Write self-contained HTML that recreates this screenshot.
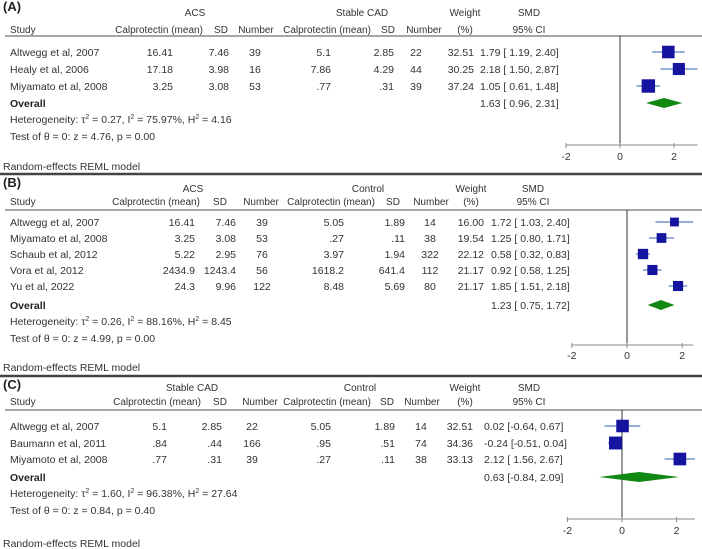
<!DOCTYPE html>
<html><head><meta charset="utf-8"><style>
html,body{margin:0;padding:0;background:#fff}
svg{display:block}
text{font-family:"Liberation Sans",Arial,sans-serif;font-size:10.5px;fill:#333}
.hd{font-size:10px}
</style></head><body>
<svg id="fig" width="702" height="549" viewBox="0 0 702 549" xmlns="http://www.w3.org/2000/svg"></svg>
<script>
// ---------- Panel A data ----------
const studiesA = ["Altwegg et al, 2007","Healy et al, 2006","Miyamato et al, 2008"];
const mean1A = ["16.41","17.18","3.25"];
const sd1A = ["7.46","3.98","3.08"];
const n1A = ["39","16","53"];
const mean2A = ["5.1","7.86",".77"];
const sd2A = ["2.85","4.29",".31"];
const n2A = ["22","44","39"];
const weightA = [32.51,30.25,37.24];
const smdA = [1.79,2.18,1.05];
const loA = [1.19,1.50,0.61];
const hiA = [2.40,2.87,1.48];
const overallA = [1.63,0.96,2.31];
const hetA = ["0.27","75.97%","4.16"];
const testA = ["4.76","0.00"];
// ---------- Panel B data ----------
const studiesB = ["Altwegg et al, 2007","Miyamato et al, 2008","Schaub et al, 2012","Vora et al, 2012","Yu et al, 2022"];
const mean1B = ["16.41","3.25","5.22","2434.9","24.3"];
const sd1B = ["7.46","3.08","2.95","1243.4","9.96"];
const n1B = ["39","53","76","56","122"];
const mean2B = ["5.05",".27","3.97","1618.2","8.48"];
const sd2B = ["1.89",".11","1.94","641.4","5.69"];
const n2B = ["14","38","322","112","80"];
const weightB = [16.00,19.54,22.12,21.17,21.17];
const smdB = [1.72,1.25,0.58,0.92,1.85];
const loB = [1.03,0.80,0.32,0.58,1.51];
const hiB = [2.40,1.71,0.83,1.25,2.18];
const overallB = [1.23,0.75,1.72];
const hetB = ["0.26","88.16%","8.45"];
const testB = ["4.99","0.00"];
// ---------- Panel C data ----------
const studiesC = ["Altwegg et al, 2007","Baumann et al, 2011","Miyamoto et al, 2008"];
const mean1C = ["5.1",".84",".77"];
const sd1C = ["2.85",".44",".31"];
const n1C = ["22","166","39"];
const mean2C = ["5.05",".95",".27"];
const sd2C = ["1.89",".51",".11"];
const n2C = ["14","74","38"];
const weightC = [32.51,34.36,33.13];
const smdC = [0.02,-0.24,2.12];
const loC = [-0.64,-0.51,1.56];
const hiC = [0.67,0.04,2.67];
const overallC = [0.63,-0.84,2.09];
const hetC = ["1.60","96.38%","27.64"];
const testC = ["0.84","0.40"];
const ticks = [-2,0,2];

const svg = document.getElementById('fig');
const NS = 'http://www.w3.org/2000/svg';
function mk(tag, attrs, parent, txt){
  const e = document.createElementNS(NS, tag);
  for (const k in attrs) e.setAttribute(k, attrs[k]);
  if (txt !== undefined) e.textContent = txt;
  (parent || svg).appendChild(e);
  return e;
}
function f2(v){ const s = Math.abs(v).toFixed(2); return (v<0?'-':' ')+s; }
function ci(m,l,h){ return m.toFixed(2)+' [' + f2(l) + ', ' + f2(h).trim() + ']'; }

function panel(P){
  const g = mk('g', {});
  
  
  const sx = v => P.x0 + v * P.unit;
  let t;
  t = mk('text', {x:3, y:P.yLabel+5, style:'font-size:13px;font-weight:bold;fill:#222'}, g, '('+P.key.toUpperCase()+')');
   
  const h1 = [[P.g1, P.c.h1], [P.g2, P.c.h2], ['Weight', P.c.w], ['SMD', P.c.smdh]];
  h1.forEach(h => { const e = mk('text', {x:h[1], y:P.yH1+4, 'text-anchor':'middle', class:'hd'}, g, h[0]);
      });
  const h2 = [['Study', 10, 'start'], ['Calprotectin (mean)', P.c.hm1, 'middle'], ['SD', P.c.hs1, 'middle'], ['Number', P.c.hn1, 'middle'],
    ['Calprotectin (mean)', P.c.hm2, 'middle'], ['SD', P.c.hs2, 'middle'], ['Number', P.c.hn2, 'middle'], ['(%)', P.c.w, 'middle'], ['95% CI', P.c.smdh, 'middle']];
  h2.forEach(h => { const e = mk('text', {x:h[1], y:P.yH2+4, 'text-anchor':h[2], class:'hd'}, g, h[0]);
      });
  const sep = mk('line', {x1:5, x2:702, y1:P.ySep, y2:P.ySep, stroke:'#888', 'stroke-width':1.5}, g);
   
  const zl = mk('line', {x1:sx(0), x2:sx(0), y1:P.ySep, y2:P.yAxis, stroke:'#333', 'stroke-width':1}, g);
   
  P.studies.forEach((s, i) => {
    const y = P.yRows[i];
    const cells = [[s, 10, 'start'], [P.m1[i], P.c.m1, 'end'], [P.s1[i], P.c.s1, 'end'], [P.n1[i], P.c.n1, 'middle'],
      [P.m2[i], P.c.m2, 'end'], [P.s2[i], P.c.s2, 'end'], [P.n2[i], P.c.n2, 'middle'], [P.w[i].toFixed(2), P.c.wr, 'end'],
      [ci(P.smd[i], P.lo[i], P.hi[i]), P.c.smd, 'start']];
    cells.forEach(c => { const e = mk('text', {x:c[1], y:y+4, 'text-anchor':c[2], 'xml:space':'preserve'}, g, c[0]);
        });
    const l = mk('line', {x1:sx(P.lo[i]), x2:sx(P.hi[i]), y1:y, y2:y, stroke:'#5b7fc4', 'stroke-width':1.2}, g);
     
    const sz = Math.sqrt(P.w[i]) * 2.2;
    const r = mk('rect', {x:sx(P.smd[i]) - sz/2, y:y - sz/2, width:sz, height:sz, fill:'#1414a0'}, g);
     
  });
  const yo = P.yOverall;
  t = mk('text', {x:10, y:yo+4, style:'font-weight:bold;fill:#222'}, g, 'Overall');
   
  t = mk('text', {x:P.c.smd, y:yo+4, 'xml:space':'preserve'}, g, ci(P.ov[0], P.ov[1], P.ov[2]));
   
  const d = mk('polygon', {points:[sx(P.ov[1])+','+yo, sx(P.ov[0])+','+(yo-5), sx(P.ov[2])+','+yo, sx(P.ov[0])+','+(yo+5)].join(' '), fill:'#118811'}, g);
   
  t = mk('text', {x:10, y:P.yHet+4}, g);
   
  t.innerHTML = 'Heterogeneity: τ<tspan dy="-4" style="font-size:7px">2</tspan><tspan dy="4"> = ' + P.het[0] + ', I</tspan><tspan dy="-4" style="font-size:7px">2</tspan><tspan dy="4"> = ' + P.het[1] + ', H</tspan><tspan dy="-4" style="font-size:7px">2</tspan><tspan dy="4"> = ' + P.het[2] + '</tspan>';
  t = mk('text', {x:10, y:P.yTest+4}, g, 'Test of θ = 0: z = ' + P.test[0] + ', p = ' + P.test[1]);
   
  const ax = mk('line', {x1:sx(ticks[0]), x2:sx(P.axMax), y1:P.yAxis, y2:P.yAxis, stroke:'#888', 'stroke-width':1}, g);
   
  ticks.forEach(v => {
    const tk = mk('line', {x1:sx(v), x2:sx(v), y1:P.yAxis-2, y2:P.yAxis+3, stroke:'#888'}, g);
     
    const tl = mk('text', {x:sx(v), y:P.yTick+4, 'text-anchor':'middle'}, g, String(v));
     
  });
  t = mk('text', {x:3, y:P.yModel+4, style:'font-size:10.5px'}, g, 'Random-effects REML model');
   
  if (P.yBottom) {
    const b = mk('line', {x1:0, x2:702, y1:P.yBottom, y2:P.yBottom, stroke:'#444', 'stroke-width':2.5}, g);
     
  }
}

panel({key:'a', g1:'ACS', g2:'Stable CAD', studies:studiesA, m1:mean1A, s1:sd1A, n1:n1A, m2:mean2A, s2:sd2A, n2:n2A,
  w:weightA, smd:smdA, lo:loA, hi:hiA, ov:overallA, het:hetA, test:testA,
  x0:620, unit:27, axMax:2.87,
  yLabel:6, yH1:12, yH2:29, ySep:36, yRows:[52,69,86], yOverall:103, yHet:119, yTest:136, yAxis:145, yTick:156, yModel:166, yBottom:174,
  c:{h1:195, h2:362, w:465, smdh:529, hm1:159, hs1:221, hn1:256, hm2:327, hs2:388, hn2:424,
     m1:173, s1:229, n1:255, m2:331, s2:394, n2:416, wr:474, smd:480}});
panel({key:'b', g1:'ACS', g2:'Control', studies:studiesB, m1:mean1B, s1:sd1B, n1:n1B, m2:mean2B, s2:sd2B, n2:n2B,
  w:weightB, smd:smdB, lo:loB, hi:hiB, ov:overallB, het:hetB, test:testB,
  x0:627, unit:27.6, axMax:2.4,
  yLabel:182, yH1:188, yH2:201, ySep:210, yRows:[222,238,254,270,286], yOverall:305, yHet:321, yTest:338, yAxis:345, yTick:355, yModel:367, yBottom:376,
  c:{h1:193, h2:368, w:471, smdh:533, hm1:156, hs1:220, hn1:261, hm2:331, hs2:393, hn2:431,
     m1:195, s1:236, n1:262, m2:344, s2:405, n2:430, wr:484, smd:491}});
panel({key:'c', g1:'Stable CAD', g2:'Control', studies:studiesC, m1:mean1C, s1:sd1C, n1:n1C, m2:mean2C, s2:sd2C, n2:n2C,
  w:weightC, smd:smdC, lo:loC, hi:hiC, ov:overallC, het:hetC, test:testC,
  x0:622, unit:27.3, axMax:2.67,
  yLabel:384, yH1:387, yH2:401, ySep:410, yRows:[426,443,459], yOverall:477, yHet:493, yTest:510, yAxis:519, yTick:530, yModel:543, yBottom:0,
  c:{h1:192, h2:360, w:465, smdh:529, hm1:157, hs1:220, hn1:260, hm2:327, hs2:387, hn2:422,
     m1:167, s1:222, n1:252, m2:331, s2:395, n2:421, wr:473, smd:484}});
</script>
</body></html>
